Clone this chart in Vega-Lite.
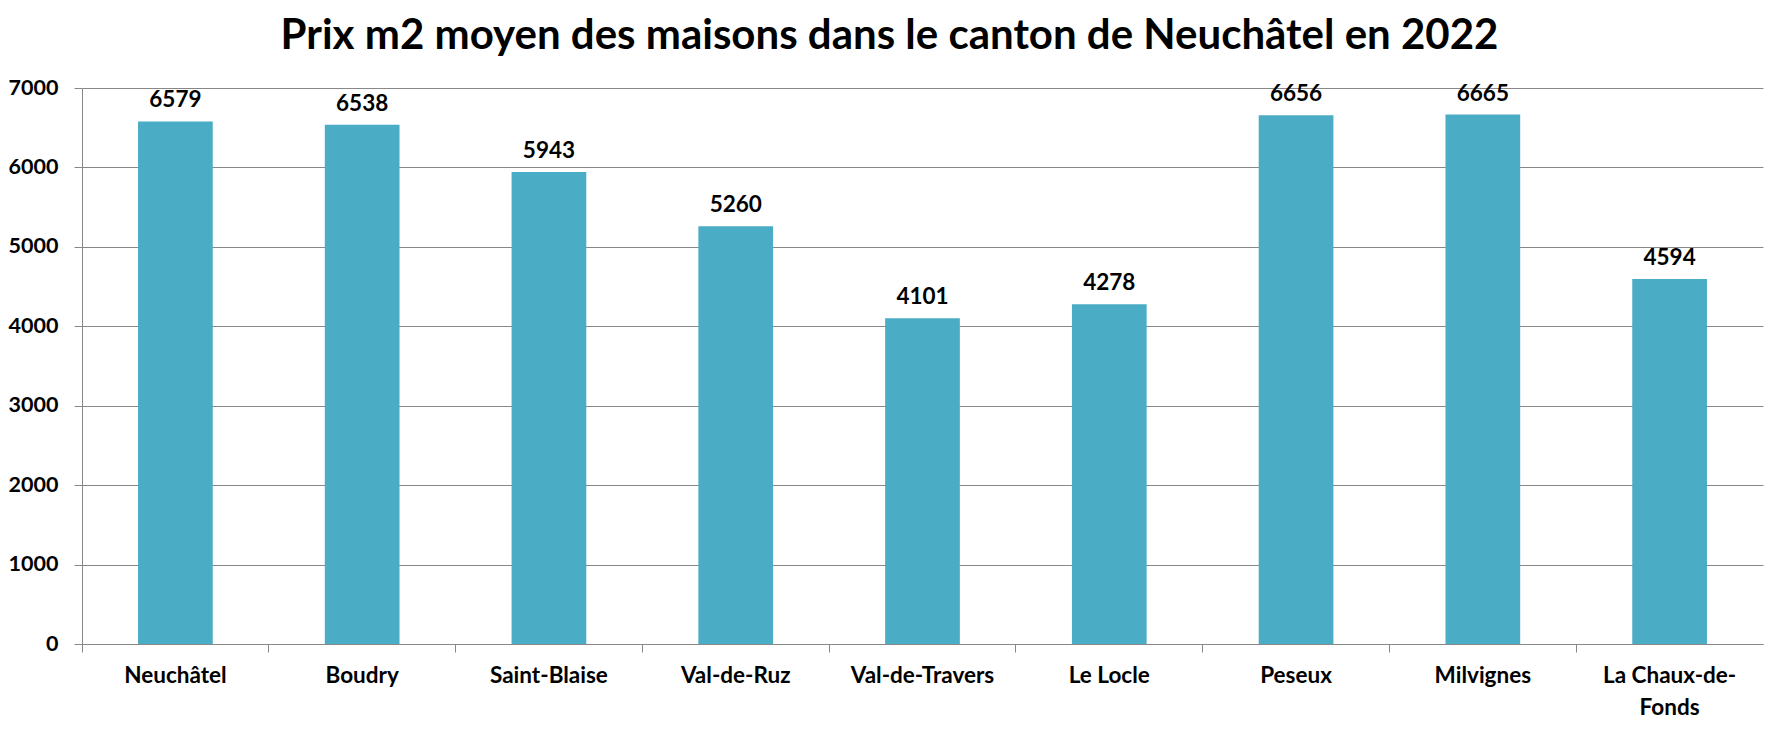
{
  "$schema": "https://vega.github.io/schema/vega-lite/v6.json",
  "autosize": "none",
  "width": 1681,
  "height": 556,
  "padding": {"left": 82, "top": 88, "right": 15, "bottom": 85},
  "background": "white",
  "title": {
    "text": "Prix m2 moyen des maisons dans le canton de Neuchâtel en 2022",
    "font": "Lato",
    "fontSize": 42,
    "fontWeight": "bold",
    "color": "#000000",
    "anchor": "middle",
    "dx": -33,
    "dy": 39,
    "baseline": "alphabetic",
    "offset": 25
  },
  "data": {
    "values": [
      {"commune": "Neuchâtel", "prix": 6579},
      {"commune": "Boudry", "prix": 6538},
      {"commune": "Saint-Blaise", "prix": 5943},
      {"commune": "Val-de-Ruz", "prix": 5260},
      {"commune": "Val-de-Travers", "prix": 4101},
      {"commune": "Le Locle", "prix": 4278},
      {"commune": "Peseux", "prix": 6656},
      {"commune": "Milvignes", "prix": 6665},
      {"commune": "La Chaux-de-Fonds", "prix": 4594}
    ]
  },
  "encoding": {
    "x": {
      "field": "commune",
      "type": "nominal",
      "sort": null,
      "title": null,
      "scale": {"paddingInner": 0, "paddingOuter": 0},
      "axis": {
        "bandPosition": 0,
        "labelAngle": 0,
        "labelFont": "Lato",
        "labelFontSize": 22.5,
        "labelFontWeight": "bold",
        "labelColor": "#000000",
        "labelBaseline": "top",
        "labelPadding": 12,
        "labelLineHeight": 32,
        "labelExpr": "datum.value == 'La Chaux-de-Fonds' ? ['La Chaux-de-', 'Fonds'] : datum.value",
        "tickSize": 8,
        "tickColor": "#888888",
        "domainColor": "#888888",
        "grid": false
      }
    }
  },
  "layer": [
    {
      "mark": {"type": "bar", "color": "#4BACC6", "width": {"band": 0.4}},
      "encoding": {
        "y": {
          "field": "prix",
          "type": "quantitative",
          "title": null,
          "scale": {"domain": [0, 7000], "nice": false},
          "axis": {
            "values": [0, 1000, 2000, 3000, 4000, 5000, 6000, 7000],
            "format": "d",
            "labelFont": "Lato",
            "labelFontSize": 21.5,
            "labelFontWeight": "bold",
            "labelColor": "#000000",
            "labelPadding": 16,
            "tickSize": 8,
            "tickColor": "#888888",
            "domainColor": "#888888",
            "gridColor": "#888888",
            "grid": true
          }
        }
      }
    },
    {
      "mark": {
        "type": "text",
        "font": "Lato",
        "fontSize": 22.5,
        "fontWeight": "bold",
        "color": "#000000",
        "baseline": "alphabetic",
        "dy": -14
      },
      "encoding": {
        "y": {"field": "prix", "type": "quantitative"},
        "text": {"field": "prix", "type": "quantitative", "format": "d"}
      }
    }
  ],
  "config": {"view": {"stroke": null}}
}
